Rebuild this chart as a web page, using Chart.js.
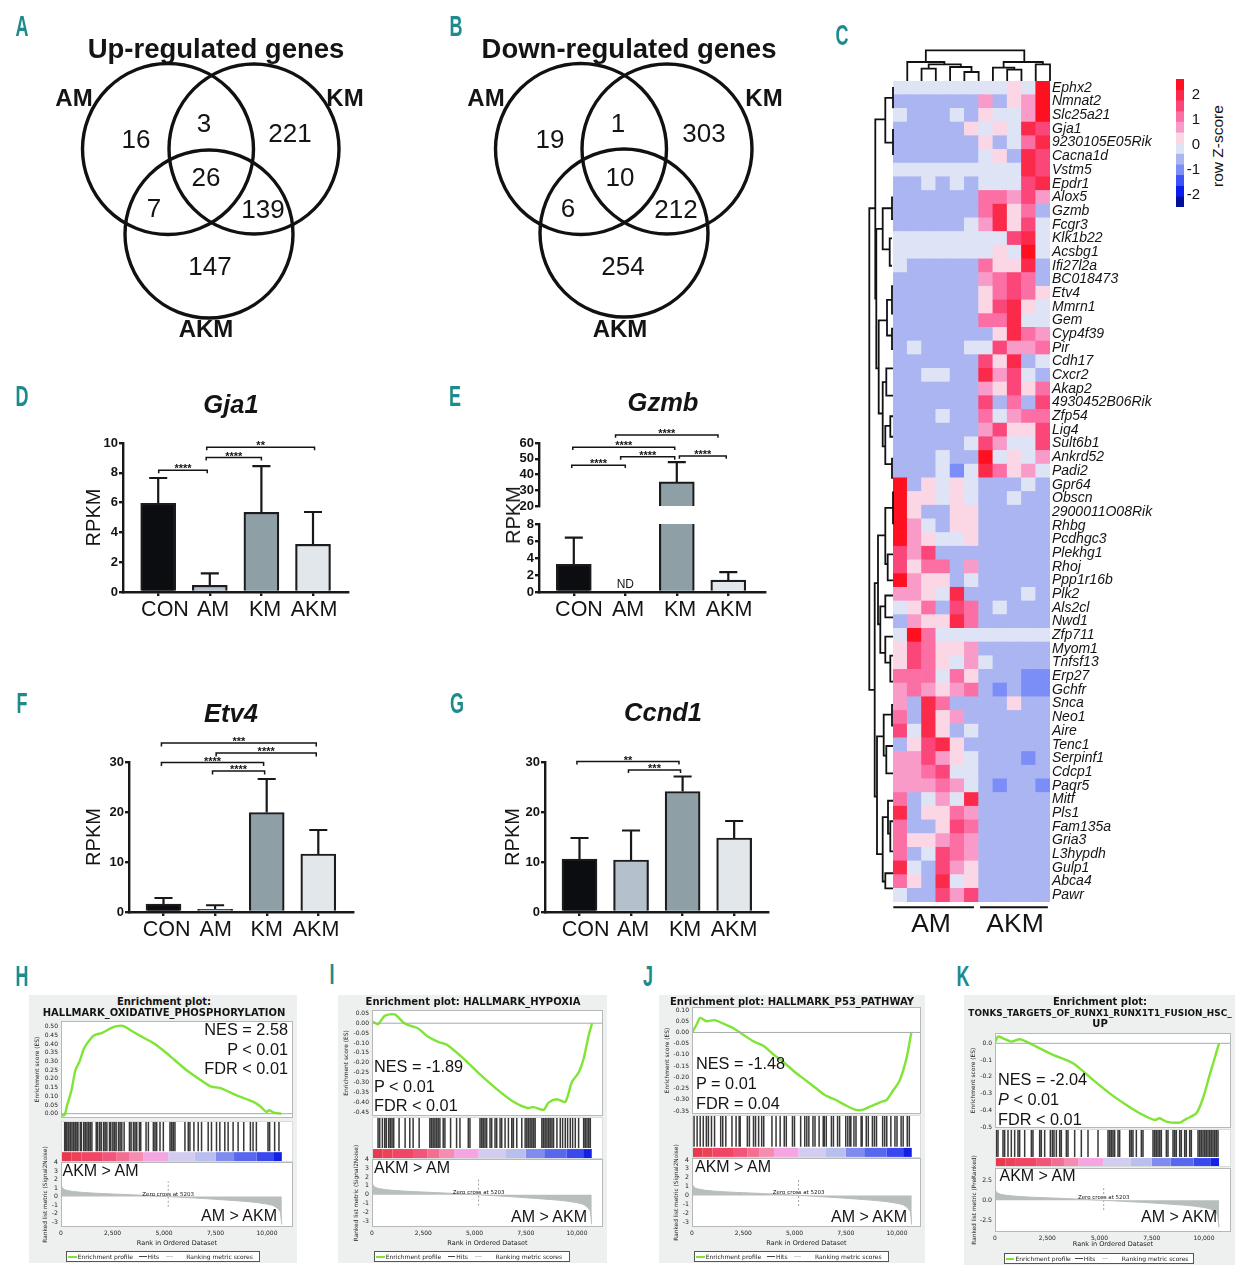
<!DOCTYPE html>
<html><head><meta charset="utf-8">
<script src="https://cdn.jsdelivr.net/npm/chart.js@4/dist/chart.umd.js"></script>
<style>
html,body{margin:0;padding:0;background:#fff}
#page{position:relative;width:1255px;height:1280px;overflow:hidden;background:#fff}
canvas{position:absolute;display:block}
.t{position:absolute;white-space:pre;z-index:5;line-height:1;color:#141414;font-family:"Liberation Sans",Arial,sans-serif}
</style></head><body><div id="page"></div>
<script>
/* ---------- DATA ---------- */
const groups=['CON','AM','KM','AKM'];
const gja1Mean=[5.95,0.45,5.35,3.2], gja1Upper=[7.65,1.25,8.45,5.37];
const gzmbMean=[3.25,null,35.3,1.4], gzmbUpper=[6.4,null,47.8,2.35];
const etv4Mean=[1.6,0.55,19.9,11.6], etv4Upper=[2.8,1.35,26.6,16.4];
const ccnd1Mean=[10.6,10.4,24.1,14.8], ccnd1Upper=[14.8,16.3,27.1,18.2];
const gja1Ticks=[0,2,4,6,8,10], gzmbLowTicks=[0,2,4,6,8], gzmbHighTicks=[20,30,40,50,60], etv4Ticks=[0,10,20,30];
// bracket: [from, to, height, drop, stars]
const gja1Brackets=[[0.01,0.95,8.17,0.2,'****'],[0.93,2.0,9.02,0.2,'****'],[0.94,3.03,9.71,0.2,'**']];
const gzmbBrackets=[[-0.04,1.0,45.9,1.8,'****'],[-0.02,1.96,57.3,1.8,'****'],[0.91,1.96,51.2,1.8,'****'],[2.05,2.96,51.8,1.8,'****'],[0.81,2.8,65.1,1.8,'****']];
const etv4Brackets=[[-0.04,2.96,33.8,0.7,'***'],[1.02,2.96,31.8,0.7,'****'],[-0.04,1.94,29.9,0.7,'****'],[0.95,1.96,28.2,0.7,'****']];
const ccnd1Brackets=[[-0.05,1.93,30.1,0.6,'**'],[0.95,1.96,28.4,0.6,'***']];

const vennA=[{x:168,y:149,r:85.5},{x:254,y:149,r:85},{x:209,y:234,r:84}];
const vennB=[{x:581,y:149,r:85.5},{x:667,y:149,r:85},{x:624,y:233,r:84}];

const geneNames=['Ephx2','Nmnat2','Slc25a21','Gja1','9230105E05Rik','Cacna1d','Vstm5','Epdr1','Alox5','Gzmb','Fcgr3','Klk1b22','Acsbg1','Ifi27l2a','BC018473','Etv4','Mmrn1','Gem','Cyp4f39','Pir','Cdh17','Cxcr2','Akap2','4930452B06Rik','Zfp54','Lig4','Sult6b1','Ankrd52','Padi2','Gpr64','Obscn','2900011O08Rik','Rhbg','Pcdhgc3','Plekhg1','Rhoj','Ppp1r16b','Plk2','Als2cl','Nwd1','Zfp711','Myom1','Tnfsf13','Erp27','Gchfr','Snca','Neo1','Aire','Tenc1','Serpinf1','Cdcp1','Paqr5','Mitf','Pls1','Fam135a','Gria3','L3hypdh','Gulp1','Abca4','Pawr'];
const heatRows=[
[-0.1,-0.1,-0.1,-0.1,-0.1,-0.1,-0.1,-0.1,0.3,-0.1,2.4],
[-0.6,-0.6,-0.6,-0.6,-0.6,-0.6,0.7,-0.6,0.3,0.7,2.4],
[-0.1,-0.6,-0.6,-0.6,-0.1,-0.6,0.3,-0.1,-0.1,0.7,2.4],
[-0.6,-0.6,-0.6,-0.6,-0.6,0.3,-0.1,0.3,-0.1,2,1.6],
[-0.6,-0.6,-0.6,-0.6,-0.6,-0.6,0.3,-0.6,-0.1,1.1,2],
[-0.6,-0.6,-0.6,-0.6,-0.6,-0.6,-0.1,0.3,-0.6,2,1.6],
[-0.1,-0.1,-0.1,-0.1,-0.1,-0.1,-0.1,-0.1,-0.1,2,1.6],
[-0.6,-0.6,-0.1,-0.6,-0.1,-0.6,-0.1,-0.1,-0.1,1.6,2],
[-0.6,-0.6,-0.6,-0.6,-0.6,-0.6,1.1,1.1,0.7,1.6,0.7],
[-0.6,-0.6,-0.6,-0.6,-0.6,-0.6,1.1,2,0.3,1.1,-0.6],
[-0.6,-0.6,-0.6,-0.6,-0.6,-0.1,0.7,2,0.3,1.6,-0.1],
[-0.1,-0.1,-0.1,-0.1,-0.1,-0.1,-0.1,-0.1,1.6,2,-0.1],
[-0.1,-0.1,-0.1,-0.1,-0.1,-0.1,-0.1,0.3,-0.1,2.4,-0.1],
[-0.1,-0.6,-0.6,-0.6,-0.6,-0.6,1.1,0.3,0.3,2,-0.6],
[-0.6,-0.6,-0.6,-0.6,-0.6,-0.6,0.7,1.1,1.6,1.1,-0.6],
[-0.6,-0.6,-0.6,-0.6,-0.6,-0.6,0.3,1.1,1.6,1.1,0.3],
[-0.6,-0.6,-0.6,-0.6,-0.6,-0.6,0.3,1.6,2,0.3,-0.1],
[-0.6,-0.6,-0.6,-0.6,-0.6,-0.6,1.1,1.1,2,-0.1,-0.1],
[-0.6,-0.6,-0.6,-0.6,-0.6,-0.6,-0.6,0.3,2,1.1,0.7],
[-0.6,-0.1,-0.6,-0.6,-0.6,-0.1,-0.1,1.6,0.7,0.7,1.1],
[-0.6,-0.6,-0.6,-0.6,-0.6,-0.6,1.6,0.3,2,-0.6,-0.1],
[-0.6,-0.6,-0.1,-0.1,-0.6,-0.6,2,0.7,1.6,-0.1,-0.6],
[-0.6,-0.6,-0.6,-0.6,-0.6,-0.6,0.7,0.3,1.6,0.3,1.1],
[-0.6,-0.6,-0.6,-0.6,-0.6,-0.6,1.6,-0.6,1.1,-0.6,1.6],
[-0.6,-0.6,-0.6,-0.1,-0.6,-0.6,1.1,-0.1,0.7,1.1,1.1],
[-0.6,-0.6,-0.6,-0.6,-0.6,-0.6,0.7,1.6,0.3,0.3,1.6],
[-0.6,-0.6,-0.6,-0.6,-0.6,-0.1,1.6,0.7,-0.1,-0.1,1.6],
[-0.6,-0.6,-0.6,-0.1,-0.6,-0.6,2.4,-0.1,0.3,-0.1,0.7],
[-0.6,-0.6,-0.6,-0.1,-1,-0.1,2,1.1,0.3,0.7,-0.1],
[2.4,-0.6,0.3,-0.1,0.3,-0.1,-0.6,-0.6,-0.6,-0.1,-0.6],
[2.4,0.3,0.3,-0.1,0.3,-0.1,-0.6,-0.6,-0.1,-0.6,-0.6],
[2.4,0.3,-0.6,-0.6,0.3,0.3,-0.6,-0.6,-0.6,-0.6,-0.6],
[2.4,0.7,-0.1,-0.6,0.3,0.3,-0.6,-0.6,-0.6,-0.6,-0.6],
[2.4,0.7,0.3,-0.1,-0.1,0.3,-0.6,-0.6,-0.6,-0.6,-0.6],
[1.6,0.7,1.6,-0.6,-0.6,-0.6,-0.6,-0.6,-0.6,-0.6,-0.6],
[1.6,0.3,1.1,1.1,-0.6,0.7,-0.6,-0.6,-0.6,-0.6,-0.6],
[2.4,0.7,0.3,0.3,-0.6,-0.1,-0.6,-0.6,-0.6,-0.6,-0.6],
[0.7,0.7,0.3,-0.1,2,-0.6,-0.6,-0.6,-0.6,-0.1,-0.6],
[-0.1,0.3,1.1,-0.6,1.6,1.1,-0.6,-0.1,-0.6,-0.6,-0.6],
[-0.6,0.7,0.3,0.3,2,1.1,-0.6,-0.6,-0.6,-0.6,-0.6],
[-0.1,2.4,1.1,-0.1,-0.1,-0.1,-0.1,-0.1,-0.1,-0.1,-0.1],
[0.3,1.6,1.1,0.3,0.3,0.7,-0.6,-0.6,-0.6,-0.6,-0.6],
[0.3,1.6,1.1,0.3,-0.1,0.7,-0.1,-0.6,-0.6,-0.6,-0.6],
[1.1,1.1,1.1,-0.1,1.1,0.3,-0.6,-0.6,-0.6,-1,-1],
[0.7,1.1,0.7,0.3,0.7,1.1,-0.6,-1,-0.6,-1,-1],
[0.7,-0.6,2,1.1,-0.6,-0.6,-0.6,-0.6,0.3,-0.6,-0.6],
[1.1,-0.6,2,0.3,0.7,-0.6,-0.6,-0.6,-0.6,-0.6,-0.6],
[1.6,-0.1,2,0.3,-0.6,-0.1,-0.6,-0.6,-0.6,-0.6,-0.6],
[-0.6,0.3,1.6,2,0.3,-0.6,-0.6,-0.6,-0.6,-0.6,-0.6],
[0.7,0.7,1.6,0.7,0.3,-0.1,-0.6,-0.6,-0.6,-1,-0.6],
[0.7,0.7,1.1,1.6,-0.1,-0.1,-0.6,-0.6,-0.6,-0.6,-0.6],
[0.7,0.7,0.7,1.1,0.7,-0.1,-0.6,-1,-0.6,-0.6,-1],
[1.1,-0.6,-0.1,0.7,-0.1,2,-0.6,-0.6,-0.6,-0.6,-0.6],
[2,-0.6,0.3,0.3,1.1,0.7,-0.6,-0.6,-0.6,-0.6,-0.6],
[1.1,-0.6,-0.6,0.3,1.6,1.1,-0.6,-0.6,-0.6,-0.6,-0.6],
[1.1,0.3,0.3,0.7,1.1,0.7,-0.6,-0.6,-0.6,-0.6,-0.6],
[1.1,-0.6,-0.1,1.6,1.1,0.7,-0.6,-0.6,-0.6,-0.6,-0.6],
[2,-0.1,-0.6,1.6,0.7,0.3,-0.6,-0.6,-0.6,-0.6,-0.6],
[1.1,0.3,-0.6,2,-0.1,0.3,-0.6,-0.6,-0.6,-0.6,-0.6],
[-0.1,-0.6,-0.6,1.6,0.7,1.6,-0.6,-0.6,-0.6,-0.6,-0.6]
];
const heatBreaks=[-2.48,-2.05,-1.62,-1.19,-0.77,-0.34,0.08,0.51,0.94,1.36,1.79,2.21,2.64];
const heatColors=['#03119A','#0A1CF0','#3E52F5','#7B8DF6','#AAB5F2','#DEE3F6','#FBD7E6','#F99BC8','#FB6FA5','#FA4678','#FB2A4A','#FF1020'];
const legendTicks=[2,1,0,-1,-2];
// dendrogram elbows: [node, firstChildPos, secondChildPos, firstChildHeight, secondChildHeight]
const rowTree=[[23.7,9.3,44.5,17.7,18.3],[17.7,2.8,15.9,7.7,16.7],[7.7,1.24,4.5,0,0],[0,0.44,2,0,0],[0,3.5,5.4,0,0],[16.7,10.8,21,10.3,14.3],[10.3,9.3,12.3,1,3.3],[1,8.5,10.1,0,0],[3.3,11.5,13.5,1,1],[14.3,17.5,24.3,6,10.3],[6,16,18.6,1,1],[1,15,17,0,0],[1,18.1,19.6,0,0],[10.3,22,26.7,6.7,7.7],[6.7,21,23,0,0],[7.7,25.2,28,2.7,1],[2.7,24.5,26,0,0],[1,27.6,29,0,0],[18.3,36.7,52.3,15,16],[15,33.2,39.7,7.7,12.7],[7.7,31.2,35.3,0,5.3],[0,30,32.4,0,0],[5.3,34.6,36.5,0,0],[12.7,38.4,41.8,7.7,7.7],[7.7,37.6,39.2,0,0],[7.7,40.6,42.5,0,2.7],[2.7,42,43.9,0,0],[16,47.9,56.5,9.3,10.3],[9.3,46.3,49.3,1,6.7],[1,45.6,47.1,0,0],[6.7,48.6,50.6,0,0],[10.3,53.8,58.5,5,7.7],[5,52.6,55,0,2.7],[2.7,54.1,56.3,0,0],[7.7,57.9,59,0,0]];
const colTree=[[12.3,2,3,0,0],[9,5,6,0,0],[14,4,5.5,0,9],[16.7,2.5,4.75,12.3,14],[19,1,3.6,0,16.7],[11.3,8,9,0,0],[13.3,7,8.5,0,11.3],[16.7,10,11,0,0],[19,7.75,10.5,13.3,16.7],[30.7,2.3,9.2,19,19]];

const esTicksH=[0,0.05,0.1,0.15,0.2,0.25,0.3,0.35,0.4,0.45,0.5];
const esTicksI=[0.05,0,-0.05,-0.1,-0.15,-0.2,-0.25,-0.3,-0.35,-0.4,-0.45];
const esTicksJ=[0.1,0.05,0,-0.05,-0.1,-0.15,-0.2,-0.25,-0.3,-0.35];
const esTicksK=[0,-0.1,-0.2,-0.3,-0.4,-0.5];
const rankTicks=[0,2500,5000,7500,10000];
const metricTicks=[4,3,2,1,0,-1,-2,-3], metricTicksK=[2.5,0,-2.5];
const esH=[[0,0],[100,-0.01],[200,0],[300,0.05],[500,0.13],[700,0.25],[900,0.3],[1100,0.37],[1300,0.41],[1600,0.45],[2000,0.465],[2400,0.49],[2700,0.503],[3000,0.505],[3300,0.485],[3800,0.45],[4500,0.405],[5000,0.36],[5500,0.31],[6100,0.25],[6900,0.184],[7300,0.155],[7700,0.148],[8500,0.107],[9320,0.069],[9700,0.04],[9970,0.01],[10100,0.02],[10300,0.008],[10700,0]];
const esI=[[0,0.01],[294,-0.005],[620,0.037],[1109,0.044],[1599,-0.002],[2251,-0.027],[2741,-0.069],[3230,-0.094],[3638,-0.108],[4454,-0.178],[5269,-0.259],[6085,-0.333],[6900,-0.397],[7553,-0.428],[7879,-0.424],[8369,-0.438],[8613,-0.401],[9021,-0.384],[9429,-0.397],[9755,-0.296],[10082,-0.249],[10326,-0.178],[10571,-0.061],[10734,0]];
const esJ=[[0,0],[200,0.03],[400,0.065],[700,0.05],[1100,0.055],[1500,0.04],[2000,0.02],[2500,-0.01],[3000,-0.04],[3500,-0.06],[4000,-0.1],[4500,-0.135],[5000,-0.175],[5500,-0.21],[6000,-0.245],[6500,-0.28],[7000,-0.3],[7500,-0.325],[8000,-0.345],[8300,-0.345],[8700,-0.33],[9200,-0.31],[9500,-0.3],[9800,-0.26],[10100,-0.22],[10300,-0.17],[10500,-0.1],[10700,0]];
const esK=[[0,0.005],[144,0.04],[383,0.03],[781,0.01],[1180,0.024],[1499,0.01],[1978,-0.02],[2775,-0.069],[3732,-0.119],[4689,-0.218],[5486,-0.298],[6284,-0.367],[7081,-0.427],[7640,-0.456],[7879,-0.446],[8198,-0.466],[8836,-0.472],[9155,-0.45],[9633,-0.417],[9952,-0.327],[10271,-0.188],[10510,-0.089],[10718,0]];
const hitsH=[177,242,290,371,452,532,613,694,774,823,936,984,1097,1177,1258,1339,1419,1500,1710,1774,1871,1952,2065,2145,2226,2355,2419,2516,2597,2677,2790,2871,2952,3065,3323,3403,3516,3597,3677,3806,3871,4129,4242,4484,4565,4645,4806,4968,5290,5371,5452,5532,6016,6177,6258,6452,6661,6823,7145,7306,7548,7710,7952,8113,8355,8597,8871,9194,9323,9484,10048,10129,10371,10581];
const hitsI=[294,375,506,620,701,815,897,979,1060,1321,1615,1843,2006,2300,2822,2903,2985,3066,3148,3230,3311,3474,3556,3833,4126,4290,4697,4779,5268,5350,5431,5513,5594,5757,5839,6002,6084,6247,6328,6491,6654,6817,6899,7062,7307,7470,7551,7633,7715,7796,7878,7959,8286,8367,8449,8530,8612,8693,8775,8857,9020,9183,9297,9427,9541,9672,9786,9916,10079,10324,10405,10487,10569,10650];
const hitsJ=[100,250,400,550,700,800,950,1100,1400,1500,1650,1950,2150,2300,2350,2700,2800,3000,3100,3250,3400,3500,3900,4100,4300,4500,4600,4900,5000,5300,5500,5600,5700,5900,6000,6200,6400,6450,6550,6800,6900,7100,7200,7500,7600,7700,7750,7900,8000,8250,8300,8500,8600,8800,8900,9000,9300,9400,9500,9700,9900,10000,10200,10300,10500,10600];
const hitsK=[64,144,383,463,622,781,941,1100,1180,1420,1739,1818,2137,2217,2377,2648,2743,2823,2935,3094,3174,3413,3493,3812,4131,4450,4929,5407,5487,5567,5646,5726,5886,5965,6444,6524,6603,6763,7002,7082,7560,7640,7720,7800,7879,7959,8198,8278,8517,8597,8677,8836,8916,9075,9155,9315,9395,9714,9794,9873,9953,10033,10112,10192,10272,10352,10431,10511,10591,10671];
const metricRank=[0,60,150,300,600,1000,1500,2000,2500,3000,4000,5203,6000,7000,8000,9000,9500,10000,10300,10500,10650,10720];
const metricScore=[1.35,1.05,0.85,0.72,0.6,0.5,0.42,0.36,0.31,0.26,0.15,0,-0.1,-0.24,-0.4,-0.58,-0.7,-0.88,-1.05,-1.35,-1.8,-3.3];
const stripEdges=[0,500,1000,2000,2700,3300,4000,5200,6500,7500,8400,9500,10300,10720];
const stripColors=['#E63A4E','#EC4258','#F04565','#F2557A','#F36E92','#F58DB0','#F5A6E2','#D2CCF0','#B9BEEF','#7F8BEE','#5867EE','#3A48F0','#1222E2'];
const zeroCross=5203;

/* ---------- HELPERS ---------- */
const page=document.getElementById('page');
const SANS='"Liberation Sans",Arial,sans-serif', DJ='"DejaVu Sans",sans-serif';
Chart.defaults.font.family=SANS;
Chart.defaults.color='#141414';
function text(s,x,y,o={}){
  const d=document.createElement('div');d.className='t';d.textContent=s;
  d.style.left=x+'px';d.style.top=y+'px';
  d.style.fontSize=(o.size||12)+'px';
  if(o.bold)d.style.fontWeight='bold';
  if(o.italic)d.style.fontStyle='italic';
  if(o.family)d.style.fontFamily=o.family;
  if(o.color)d.style.color=o.color;
  if(o.spacing)d.style.letterSpacing=o.spacing+'px';
  const ax=o.anchor==='l'?'0':o.anchor==='r'?'-100%':'-50%';
  d.style.transform=`translate(${ax},-50%)`+(o.rotate?` rotate(${o.rotate}deg)`:'')+(o.sx?` scaleX(${o.sx})`:'');
  page.appendChild(d);return d;
}
function box(x0,y0,x1,y1,style){
  const d=document.createElement('div');
  d.style.cssText=`position:absolute;left:${x0}px;top:${y0}px;width:${x1-x0}px;height:${y1-y0}px;`+style;
  page.appendChild(d);return d;
}
const fitW=w=>s=>{s.width=w}, fitH=h=>s=>{s.height=h};
const ticksFrom=list=>s=>{s.ticks=list.map(v=>({value:v}))};
function calib(v1,p1,v2,p2,top,bot){const k=(v2-v1)/(p2-p1);return {max:v1+(top-p1)*k,min:v1+(bot-p1)*k};}
Chart.register({id:'frame',beforeDatasetsDraw(c,a,o){if(!o.fill)return;const{left,top,width,height}=c.chartArea,g=c.ctx;g.save();g.fillStyle=o.fill;g.fillRect(left,top,width,height);g.restore();},afterDraw(c,a,o){if(!o.stroke)return;const{left,top,width,height}=c.chartArea,g=c.ctx;g.save();g.strokeStyle=o.stroke;g.lineWidth=1;g.strokeRect(left+.5,top+.5,width-1,height-1);g.restore();}});
Chart.register({id:'valueText',afterDatasetsDraw(c,a,o){if(!o.items)return;const g=c.ctx;g.save();g.textAlign='center';g.fillStyle='#141414';
  for(const t of o.items){g.font=t.font;g.textBaseline=t.base||'alphabetic';g.fillText(t.text,c.scales.x.getPixelForValue(t.x),c.scales.y.getPixelForValue(t.y)+(t.dy||0));}
  g.restore();}});
function place(rect,m,cfg){
  const [x0,y0,x1,y1]=rect;
  const c=document.createElement('canvas');
  const W=x1-x0+m.l+m.r,H=y1-y0+m.t+m.b;
  c.width=W;c.height=H;c.style.left=(x0-m.l)+'px';c.style.top=(y0-m.t)+'px';c.style.width=W+'px';c.style.height=H+'px';
  page.appendChild(c);
  const sc=cfg.options.scales,taken={left:false,right:false,bottom:false};
  for(const id in sc){if(sc[id].display===false)continue;const pos=sc[id].position||(id[0]==='x'?'bottom':'left');taken[pos]=true;}
  cfg.options=Object.assign({responsive:false,animation:false,events:[],devicePixelRatio:1,
    layout:{padding:{left:taken.left?0:m.l,right:taken.right?0:m.r,bottom:taken.bottom?(m.pb||0):m.b,top:m.t}}},cfg.options);
  cfg.options.plugins=Object.assign({legend:{display:false},tooltip:{enabled:false}},cfg.options.plugins||{});
  return new Chart(c,cfg);
}
const segs=list=>{const out=[];list.forEach(s=>{s.forEach(p=>out.push({x:p[0],y:p[1]}));out.push({x:NaN,y:NaN});});return out;};
const lineSet=(data,color,width,extra)=>Object.assign({type:'scatter',showLine:true,data,borderColor:color,borderWidth:width,pointRadius:0,clip:false,spanGaps:false,tension:0},extra||{});

/* ---------- PANEL LETTERS & VENN ---------- */
[['A',22,26],['B',456,26],['C',842,35],['D',22,396],['E',455,396],['F',22,703],['G',457,703],['H',22,976],['I',332,974],['J',648,976],['K',963,976]]
 .forEach(l=>text(l[0],l[1],l[2],{size:29,color:'#1E8A8C',sx:0.62,bold:true}));
const vennInset=88.9;
place([-10,-40,840,420],{l:0,t:0,r:0,b:0},{type:'bubble',data:{datasets:[
  {data:vennA,backgroundColor:'rgba(0,0,0,0)',borderColor:'#111',borderWidth:3.4,clip:false},
  {data:vennB,backgroundColor:'rgba(0,0,0,0)',borderColor:'#111',borderWidth:3.4,clip:false}]},
  options:{scales:{x:{type:'linear',display:false,min:-10+vennInset,max:840-vennInset},y:{type:'linear',display:false,min:-40+vennInset,max:420-vennInset,reverse:true}}}});
text('Up-regulated genes',216,49,{size:27.5,bold:true});
text('Down-regulated genes',629,49,{size:27.5,bold:true});
[['AM',74,98],['KM',345,98],['AKM',206,329],['AM',486,98],['KM',764,98],['AKM',620,329]].forEach(l=>text(l[0],l[1],l[2],{size:24,bold:true}));
[['16',136,139],['3',204,123],['221',290,133],['26',206,177],['7',154,208],['139',263,209],['147',210,266],['19',550,139],['1',618,123],['303',704,133],['10',620,177],['6',568,208],['212',676,209],['254',623,266]]
 .forEach(l=>text(l[0],l[1],l[2],{size:26}));

/* ---------- BAR PANELS ---------- */
const barFill=['#0C0D10','#B4C0CB','#8F9FA6','#E2E7EB'];
function barChart(p){
  const c0=p.c0,sp=p.sp,[x0,y0,x1,y1]=p.rect;
  const xmin=(x0-c0)/sp,xmax=(x1-c0)/sp;
  const show=p.show||(()=>true);
  const bars=p.mean.map((m,i)=>({x:i,y:(m!==null&&show(i))?m:null}));
  const wh=[];p.mean.forEach((m,i)=>{if(m===null||!show(i)||p.upper[i]>p.ymax)return;wh.push([[i,m],[i,p.upper[i]]],[[i-0.175,p.upper[i]],[i+0.175,p.upper[i]]]);});
  const br=(p.brackets||[]).map(b=>[[b[0],b[2]-b[3]],[b[0],b[2]],[b[1],b[2]],[b[1],b[2]-b[3]]]);
  const stars=(p.brackets||[]).map(b=>({x:(b[0]+b[1])/2,y:b[2],text:b[4],font:'bold 11px '+SANS,dy:2}));
  const items=stars.concat(p.notes||[]);
  const scales={
    x:{type:'linear',offset:false,min:xmin,max:xmax,display:!p.noX,afterBuildTicks:ticksFrom([0,1,2,3]),afterFit:fitH(5),
       ticks:{display:false},grid:{offset:false,display:true,drawOnChartArea:false,tickLength:4,lineWidth:2.4,color:'#181818'},border:{display:true,width:2.4,color:'#181818'}},
    y:{type:'linear',min:p.ymin,max:p.ymax,afterBuildTicks:ticksFrom(p.ticks),afterFit:fitW(p.m.l),
       ticks:{autoSkip:false,font:{size:13,weight:'bold'},padding:1,color:'#141414'},
       grid:{display:true,drawOnChartArea:false,tickLength:4,lineWidth:2.4,color:'#181818'},border:{display:true,width:2.4,color:'#181818'},
       title:p.yTitle?{display:true,text:'RPKM',font:{size:20},padding:0,color:'#141414'}:{display:false}}
  };
  if(!p.noX)scales.xl={type:'linear',offset:false,position:'bottom',weight:1,min:xmin,max:xmax,afterBuildTicks:ticksFrom(p.labelPx.map(v=>(v-c0)/sp)),afterFit:fitH(p.m.b-5),
       ticks:{autoSkip:false,maxRotation:0,font:{size:21.5},padding:0,color:'#141414',callback:(v,i)=>groups[i]},grid:{offset:false,display:false,drawTicks:false},border:{display:false}};
  place(p.rect,p.m,{type:'bar',data:{datasets:[
    lineSet(segs(br),'#141414',1.5,{order:3}),
    lineSet(segs(wh),'#181818',2.2,{order:2}),
    {type:'bar',data:bars,backgroundColor:barFill,borderColor:'#1C1C1C',borderWidth:2.2,barThickness:35,order:1}
  ]},options:{scales,plugins:{valueText:{items}}}});
}
barChart({rect:[123,443,348,592],m:{l:41,t:40,r:8,b:32},c0:158.2,sp:51.6,mean:gja1Mean,upper:gja1Upper,ymin:0,ymax:10,ticks:gja1Ticks,brackets:gja1Brackets,labelPx:[165,213,265,314],yTitle:true});
barChart({rect:[539,443,765,511],m:{l:26,t:40,r:8,b:10},c0:573.8,sp:51.5,mean:gzmbMean,upper:gzmbUpper,ymin:20,ymax:60,ticks:gzmbHighTicks,brackets:gzmbBrackets,noX:true,show:i=>i===2});
barChart({rect:[539,524,765,592],m:{l:26,t:10,r:8,b:32},c0:573.8,sp:51.5,mean:gzmbMean,upper:gzmbUpper,ymin:0,ymax:8,ticks:gzmbLowTicks,labelPx:[579,628,680,729],
  notes:[{x:1,y:0,text:'ND',font:'12px '+SANS,dy:-4}]});
text('RPKM',512.7,515,{size:20,rotate:-90});
barChart({rect:[129,762,353,912],m:{l:47,t:40,r:8,b:32},c0:163.5,sp:51.6,mean:etv4Mean,upper:etv4Upper,ymin:0,ymax:30,ticks:etv4Ticks,brackets:etv4Brackets,labelPx:[166.7,215.7,266.7,316],yTitle:true});
barChart({rect:[545,762,768,912],m:{l:44,t:40,r:8,b:32},c0:579.5,sp:51.55,mean:ccnd1Mean,upper:ccnd1Upper,ymin:0,ymax:30,ticks:etv4Ticks,brackets:ccnd1Brackets,labelPx:[585.7,633,685,734],yTitle:true});
[['Gja1',231,405],['Gzmb',663,403],['Etv4',231,714],['Ccnd1',663,713]].forEach(l=>text(l[0],l[1],l[2],{size:25.5,bold:true,italic:true}));

/* ---------- HEATMAP ---------- */
const heatColor=v=>{for(let i=0;i<heatColors.length;i++)if(v<heatBreaks[i+1])return heatColors[i];return heatColors[heatColors.length-1];};
const heatCells=[];heatRows.forEach((row,r)=>row.forEach((v,c)=>heatCells.push({x:c+0.5,y:[r,r+1],z:v})));
const geneTicks=geneNames.map((g,i)=>i+0.5);
place([893,81,1050,902],{l:0,t:12,r:112,b:40},{type:'bar',data:{datasets:[
  {type:'bar',data:heatCells,backgroundColor:c=>heatColor(c.raw?c.raw.z:0),categoryPercentage:1,barPercentage:1,borderWidth:0,order:2},
  lineSet(segs([[[0.02,60.38],[5.67,60.38]],[[6.1,60.38],[10.85,60.38]]]),'#141414',2,{order:1})
]},options:{scales:{
  x:{type:'linear',offset:false,grid:{offset:false},display:false,min:0,max:11},
  y:{type:'linear',position:'right',min:0,max:60,reverse:true,afterBuildTicks:ticksFrom(geneTicks),afterFit:fitW(112),
     ticks:{autoSkip:false,padding:2,font:{size:14,style:'italic'},color:'#141414',callback:(v)=>geneNames[Math.round(v-0.5)]},
     grid:{display:false,drawTicks:false},border:{display:false}}
}}});
text('AM',931,923,{size:26.5});text('AKM',1015,923,{size:26.5});
const rowSegs=rowTree.map(e=>[[e[3],e[1]],[e[0],e[1]],[e[0],e[2]],[e[4],e[2]]]);
place([850,81,893,902],{l:2,t:2,r:2,b:2},{type:'scatter',data:{datasets:[lineSet(segs(rowSegs),'#111',1.8)]},
  options:{scales:{x:{type:'linear',display:false,min:0,max:43,reverse:true},y:{type:'linear',display:false,min:0,max:60,reverse:true}}}});
const colSegs=colTree.map(e=>[[e[1],e[3]],[e[1],e[0]],[e[2],e[0]],[e[2],e[4]]]);
place([893,49,1050,81],{l:2,t:2,r:2,b:2},{type:'scatter',data:{datasets:[lineSet(segs(colSegs),'#111',1.8)]},
  options:{scales:{x:{type:'linear',display:false,min:0,max:11},y:{type:'linear',display:false,min:0,max:32}}}});
const legendCells=heatColors.map((c,i)=>({x:0.5,y:[heatBreaks[i],heatBreaks[i+1]]}));
place([1176,78,1184,208],{l:0,t:8,r:16,b:8},{type:'bar',data:{datasets:[{data:legendCells,backgroundColor:heatColors,barThickness:8,borderWidth:0}]},
  options:{scales:{x:{type:'linear',offset:false,grid:{offset:false},display:false,min:0,max:1},
   y:{type:'linear',position:'right',min:-2.48,max:2.64,afterBuildTicks:ticksFrom(legendTicks),afterFit:fitW(16),
      ticks:{autoSkip:false,crossAlign:'far',font:{size:15},color:'#141414',padding:0},grid:{display:false,drawTicks:false},border:{display:false}}}}});
text('row Z-score',1218,146,{size:15.5,rotate:-90});

/* ---------- GSEA PANELS ---------- */
const hitSegs=h=>segs(h.map(r=>[[r,0.26],[r,1]]));
function gsea(g){
  box(g.bg[0],g.bg[1],g.bg[2],g.bg[3],'background:#EDF0EE');
  g.title.forEach(t=>text(t[0],t[1],t[2],{size:t[3]||10,bold:true,family:DJ}));
  const xMax=(g.right-g.x0)/(g.x10k-g.x0)*10000;
  const hx={type:'linear',display:false,min:0,max:xMax};
  const gridFaint={color:'#EFEFEF',lineWidth:1,drawTicks:true,tickLength:2};
  const esR=calib(g.es[0],g.es[1],g.es[2],g.es[3],g.esTop,g.esBot);
  place([g.x0,g.esTop,g.right,g.esBot],{l:g.esL,t:6,r:8,b:6},{type:'scatter',data:{datasets:[
    lineSet(segs([[[0,0],[xMax,0]]]),'#A5A9A8',1),
    lineSet(g.esData.map(p=>({x:p[0],y:p[1]})),'#7FE534',2.4,{tension:0.25,clip:true})
  ]},options:{plugins:{frame:{fill:'#fff',stroke:'#B4B8B6'}},scales:{
    x:{type:'linear',display:false,min:0,max:xMax},
    y:{type:'linear',min:esR.min,max:esR.max,afterBuildTicks:ticksFrom(g.esTicks),afterFit:fitW(g.esL),
       ticks:{autoSkip:false,font:{size:6,family:DJ},padding:1,color:'#222',callback:v=>g.esFmt===1?v.toFixed(1):v.toFixed(2)},
       grid:gridFaint,border:{display:false},title:{display:true,text:'Enrichment score (ES)',font:{size:5.9,family:DJ},padding:0,color:'#222'}}
  }}});
  const stripSets=stripColors.map((c,i)=>lineSet([{x:stripEdges[i],y:0.13},{x:stripEdges[i+1],y:0.13}],c,g.stripPx));
  place([g.x0,g.hitTop,g.right,g.stripBot],{l:6,t:6,r:6,b:6},{type:'scatter',data:{datasets:[
    ...stripSets,
    lineSet(hitSegs(g.hits),'rgba(0,0,0,0.78)',1.5)
  ]},options:{plugins:{frame:{fill:'#fff',stroke:'#D8DCDA'}},scales:{x:hx,y:{type:'linear',display:false,min:0,max:1}}}});
  const mR=calib(g.m[0],g.m[1],g.m[2],g.m[3],g.mTop,g.mBot);
  const xH=g.xH||20;
  place([g.x0,g.mTop,g.right,g.mBot],{l:g.mL,t:30,r:8,b:30,pb:30-xH},{type:'scatter',data:{datasets:[
    lineSet(metricRank.map((r,i)=>({x:r,y:metricScore[i]})),'#B7BEBC',1,{fill:'origin',backgroundColor:'#B7BEBC',clip:true}),
    lineSet(segs([[[zeroCross,-1.2],[zeroCross,1.8]]]),'#8A8A8A',0.8,{borderDash:[2,2]})
  ]},options:{plugins:{frame:{fill:'#fff',stroke:'#B4B8B6'},valueText:{items:[{x:zeroCross,y:0,text:'Zero cross at 5203',font:'5.5px '+DJ,dy:-1}]}},scales:{
    x:{type:'linear',min:0,max:xMax,afterBuildTicks:ticksFrom(rankTicks),afterFit:fitH(xH),
       ticks:{autoSkip:false,maxRotation:0,font:{size:6,family:DJ},padding:0,color:'#222',callback:v=>v.toLocaleString('en-US')},
       grid:{color:'#F1F1F1',tickLength:3},border:{display:false},
       title:{display:true,text:'Rank in Ordered Dataset',font:{size:6.5,family:DJ},padding:0,color:'#222'}},
    y:{type:'linear',min:mR.min,max:mR.max,afterBuildTicks:ticksFrom(g.mTicks),afterFit:fitW(g.mL),
       ticks:{autoSkip:false,font:{size:6.2,family:DJ},padding:1,color:'#222',callback:v=>g.mTicks.length===3?v.toFixed(1):v},
       grid:{color:'#F1F1F1',tickLength:2},border:{display:false},
       title:{display:true,text:g.mTitle,font:{size:5.8,family:DJ},padding:0,color:'#222'}}
  }}});
  g.notes.forEach(n=>{
    const el=text(n[0],n[1],n[2],{size:16.3,anchor:n[3]});
    if(n[4]){el.textContent='';const i=document.createElement('i');i.textContent=n[4];el.appendChild(i);el.appendChild(document.createTextNode(n[0]));}
  });
  text('AKM > AM',g.up[0],g.up[1],{size:16,anchor:'l'});
  text('AM > AKM',g.down[0],g.down[1],{size:16,anchor:'r'});
  const [lx0,ly0,lx1,ly1]=g.legend,w=lx1-lx0;
  box(lx0,ly0,lx1,ly1,'background:#fff;border:1px solid #555;box-sizing:border-box;z-index:6');
  const ly=(ly0+ly1)/2;
  const item=(fa,fb,col,h)=>box(lx0+fa*w,ly-h/2,lx0+fb*w,ly+h/2,'background:'+col+';z-index:7');
  item(.012,.055,'#7FE534',2);item(.375,.415,'#444',1);item(.515,.55,'#CFCFCF',1);
  [['Enrichment profile',.06],['Hits',.42],['Ranking metric scores',.62]].forEach(t=>{const el=text(t[0],lx0+t[1]*w,ly,{size:6,family:DJ,anchor:'l',color:'#222'});el.style.zIndex=8;});
}
gsea({bg:[29,995,297,1263],title:[['Enrichment plot:',164,1001.5],['HALLMARK_OXIDATIVE_PHOSPHORYLATION',164,1013]],
  x0:61,x10k:267,right:293,esTop:1021,esBot:1118,es:[0.5,1026.7,0,1113.7],esTicks:esTicksH,esData:esH,esL:27,
  hitTop:1121,stripBot:1162,stripPx:9,hits:hitsH,mTop:1162,mBot:1227,m:[4,1162.7,-3,1222],mTicks:metricTicks,mL:19,mTitle:'Ranked list metric (Signal2Noise)',
  notes:[['NES = 2.58',288,1029,'r'],['P < 0.01',288,1049,'r'],['FDR < 0.01',288,1068,'r']],up:[62.5,1171],down:[277,1216],legend:[66,1251,260,1262]});
gsea({bg:[338,995,607,1263],title:[['Enrichment plot: HALLMARK_HYPOXIA',473,1001.5]],
  x0:372,x10k:577,right:603,esTop:1010,esBot:1116,es:[0.05,1013.3,-0.45,1112.3],esTicks:esTicksI,esData:esI,esL:29,
  hitTop:1117,stripBot:1159,stripPx:9,hits:hitsI,mTop:1159,mBot:1227,m:[4,1159,-3,1221.7],mTicks:metricTicks,mL:19,mTitle:'Ranked list metric (Signal2Noise)',
  notes:[['NES = -1.89',374,1065.5,'l'],['P < 0.01',374,1085.5,'l'],['FDR < 0.01',374,1105,'l']],up:[374,1167.5],down:[587,1217],legend:[374,1251,570,1262]});
gsea({bg:[659,995,925,1263],title:[['Enrichment plot: HALLMARK_P53_PATHWAY',792,1001.5]],
  x0:692,x10k:897,right:921,esTop:1007,esBot:1114,es:[0.1,1010,-0.35,1111],esTicks:esTicksJ,esData:esJ,esL:28,
  hitTop:1115,stripBot:1158,stripPx:9,hits:hitsJ,mTop:1158,mBot:1227,m:[4,1160,-3,1222],mTicks:metricTicks,mL:19,mTitle:'Ranked list metric (Signal2Noise)',
  notes:[['NES = -1.48',696,1063,'l'],['P = 0.01',696,1083,'l'],['FDR = 0.04',696,1103,'l']],up:[695,1167],down:[907,1217],legend:[694,1251,889,1262]});
gsea({bg:[964,995,1235,1265],title:[['Enrichment plot:',1100,1001.5],['TONKS_TARGETS_OF_RUNX1_RUNX1T1_FUSION_HSC_',1100,1013,8.9],['UP',1100,1024]],
  x0:995,x10k:1204,right:1231,esTop:1033,esBot:1128,es:[0,1043.3,-0.5,1127.3],esTicks:esTicksK,esData:esK,esL:25,esFmt:1,
  hitTop:1129,stripBot:1167,stripPx:8,hits:hitsK,mTop:1168,mBot:1232,m:[2.5,1180,-2.5,1220.7],mTicks:metricTicksK,mL:24,xH:16,mTitle:'Ranked list metric (PreRanked)',
  notes:[['NES = -2.04',998,1079,'l'],[' < 0.01',998,1099,'l','P'],['FDR < 0.01',998,1119,'l']],up:[999.5,1176],down:[1217,1217],legend:[1004,1253,1194,1264]});
</script></body></html>
